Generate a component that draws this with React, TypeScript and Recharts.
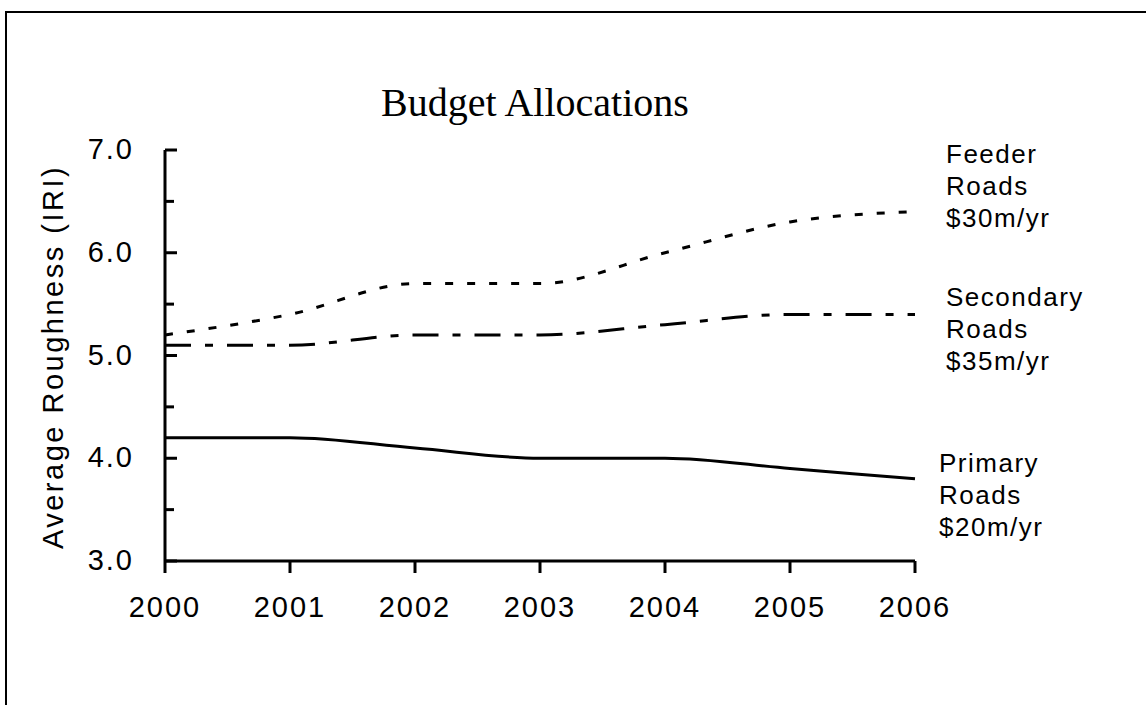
import React from 'react';
import { LineChart, Line, XAxis, YAxis } from 'recharts';

// values
const years = [2000, 2001, 2002, 2003, 2004, 2005, 2006];
const feederRoads = [5.2, 5.4, 5.7, 5.7, 6.0, 6.3, 6.4];
const secondaryRoads = [5.1, 5.1, 5.2, 5.2, 5.3, 5.4, 5.4];
const primaryRoads = [4.2, 4.2, 4.1, 4.0, 4.0, 3.9, 3.8];
const yTicks = [3, 3.5, 4, 4.5, 5, 5.5, 6, 6.5, 7];

const feederLabel = ['Feeder', 'Roads', '$30m/yr'];
const secondaryLabel = ['Secondary', 'Roads', '$35m/yr'];
const primaryLabel = ['Primary', 'Roads', '$20m/yr'];

const data = years.map((year, i) => ({
    year,
    feeder: feederRoads[i],
    secondary: secondaryRoads[i],
    primary: primaryRoads[i],
}));

const sans = '"Liberation Sans", Arial, sans-serif';
const serif = '"Liberation Serif", "Times New Roman", serif';

// y ticks point inwards, only whole numbers get a label
const YTick = (props: any) => {
    const { x, y, payload } = props;
    const major = payload.value % 1 === 0;
    return (
        <g>
            <line x1={x} y1={y} x2={x + (major ? 12 : 9)} y2={y} stroke="#000" strokeWidth={3} />
            {major && (
                <text
                    x={x - 31}
                    y={y + 9}
                    textAnchor="end"
                    fontSize={29}
                    fontFamily={sans}
                    letterSpacing={2}
                    fill="#000"
                >
                    {payload.value.toFixed(1)}
                </text>
            )}
        </g>
    );
};

const SideLabel = ({ x, y, lines }: { x: number; y: number; lines: string[] }) => (
    <text x={x} y={y} fontSize={26} fontFamily={sans} letterSpacing={1.5} fill="#000">
        {lines.map((l, i) => (
            <tspan key={i} x={x} dy={i === 0 ? 0 : 32}>
                {l}
            </tspan>
        ))}
    </text>
);

export default function App() {
    return (
        <div style={{ position: 'absolute', left: 0, top: 0, width: 1146, height: 705, background: '#fff', overflow: 'hidden' }}>
            {/* frame, only left and top edges fall inside the picture */}
            <div
                style={{
                    position: 'absolute',
                    left: 5,
                    top: 11,
                    width: 1200,
                    height: 800,
                    borderLeft: '2px solid #000',
                    borderTop: '2px solid #000',
                }}
            />
            <div style={{ position: 'absolute', left: 0, top: 0 }}>
                <LineChart width={1146} height={705} data={data} margin={{ top: 150, right: 231, bottom: 84, left: 0 }}>
                    <XAxis
                        dataKey="year"
                        type="number"
                        domain={[2000, 2006]}
                        ticks={years}
                        interval={0}
                        height={60}
                        tickSize={12}
                        tickMargin={23}
                        axisLine={{ stroke: '#000', strokeWidth: 3 }}
                        tickLine={{ stroke: '#000', strokeWidth: 3 }}
                        tick={{ fontSize: 29, fontFamily: sans, fill: '#000', letterSpacing: 2 } as any}
                    />
                    <YAxis
                        type="number"
                        domain={[3, 7]}
                        ticks={yTicks}
                        interval={0}
                        width={165}
                        tickSize={0}
                        tickMargin={0}
                        tickLine={false}
                        axisLine={{ stroke: '#000', strokeWidth: 3 }}
                        tick={<YTick />}
                    />
                    <Line
                        type="monotone"
                        dataKey="feeder"
                        stroke="#000"
                        strokeWidth={3}
                        strokeDasharray="8 14"
                        dot={false}
                        activeDot={false}
                        isAnimationActive={false}
                    />
                    <Line
                        type="monotone"
                        dataKey="secondary"
                        stroke="#000"
                        strokeWidth={3}
                        strokeDasharray="26 14 8 14"
                        dot={false}
                        activeDot={false}
                        isAnimationActive={false}
                    />
                    <Line
                        type="monotone"
                        dataKey="primary"
                        stroke="#000"
                        strokeWidth={3}
                        dot={false}
                        activeDot={false}
                        isAnimationActive={false}
                    />
                </LineChart>
            </div>
            <svg width={1146} height={705} style={{ position: 'absolute', left: 0, top: 0, pointerEvents: 'none' }}>
                <text x={535} y={116} textAnchor="middle" fontSize={40} fontFamily={serif} fill="#000">
                    Budget Allocations
                </text>
                <text
                    transform="translate(63, 357) rotate(-90)"
                    textAnchor="middle"
                    fontSize={29}
                    fontFamily={sans}
                    letterSpacing={2.5}
                    fill="#000"
                >
                    Average Roughness (IRI)
                </text>
                <SideLabel x={946} y={163} lines={feederLabel} />
                <SideLabel x={946} y={306} lines={secondaryLabel} />
                <SideLabel x={939} y={472} lines={primaryLabel} />
            </svg>
        </div>
    );
}
